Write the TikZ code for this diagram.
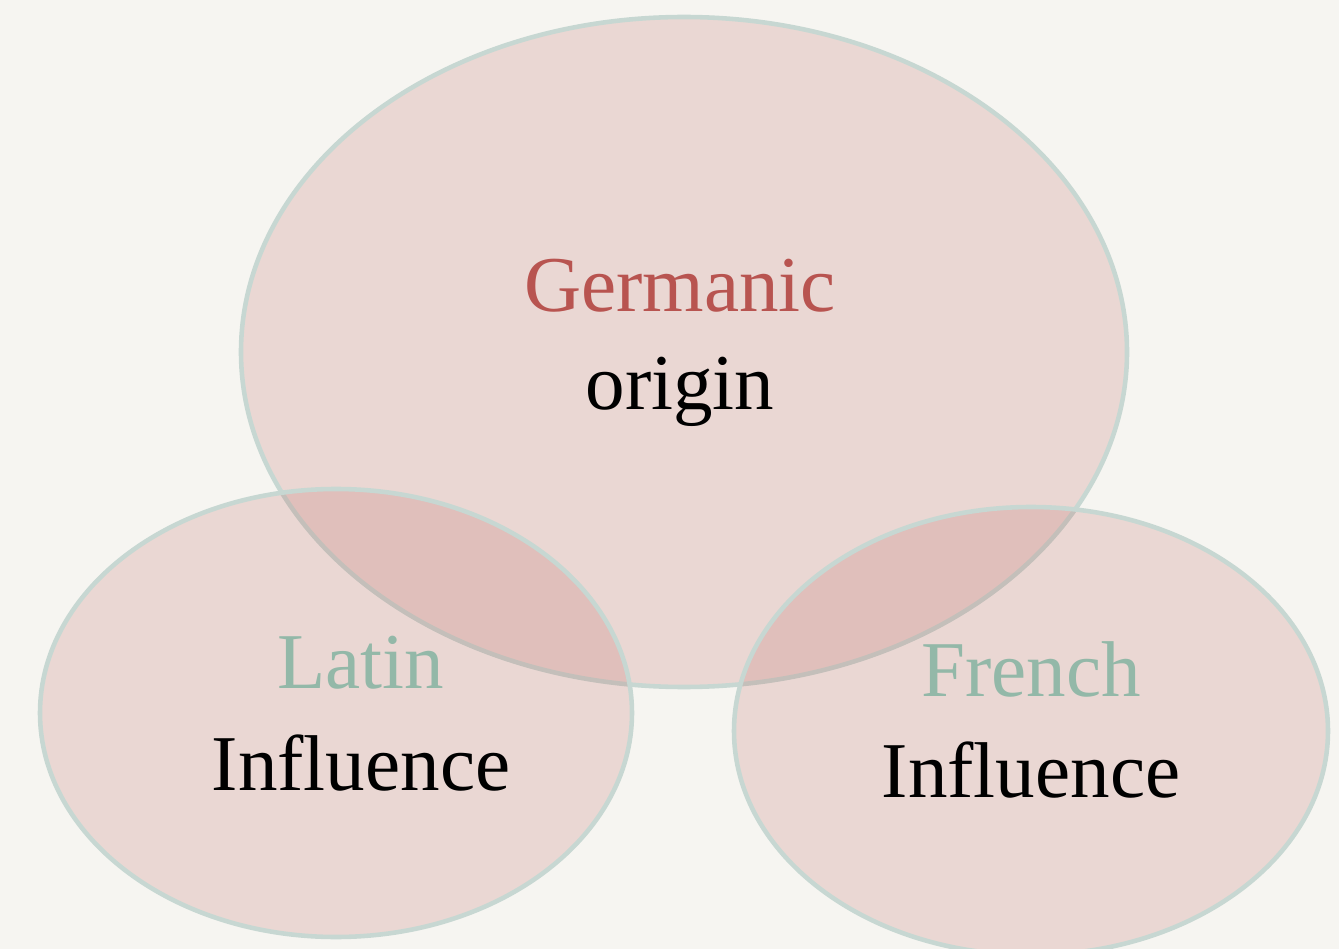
\documentclass[tikz,border=0pt]{standalone}
\usepackage{fontspec}
\setmainfont{Liberation Serif}
\usetikzlibrary{positioning}

\definecolor{paper}{RGB}{246,245,241}
\definecolor{rose}{RGB}{184,84,80}
\definecolor{sage}{RGB}{147,184,168}
\definecolor{rim}{RGB}{199,215,210}

\tikzset{
    blob/.style={fill=rose,fill opacity=0.18,draw=rim,draw opacity=1,line width=2.6pt},
    head/.style={anchor=base,inner sep=0pt,font=\fontsize{45}{54}\selectfont},
    sub/.style={anchor=base,inner sep=0pt,font=\fontsize{45}{54}\selectfont,text=black}
}

\begin{document}
\begin{tikzpicture}[x=0.02cm,y=-0.02cm]
    % paper background, fixes the page size
    \fill[paper] (0,0) rectangle (1339,949);
    \useasboundingbox (0,0) rectangle (1339,949);

    % Germanic, large ellipse on top
    \draw[blob] (684,352) ellipse [x radius=443,y radius=335];
    % Latin, lower left
    \draw[blob] (336,713) ellipse [x radius=296,y radius=224];
    % French, lower right
    \draw[blob] (1031,731) ellipse [x radius=297,y radius=224];

    % labels
    \node[head,text=rose] (germanic) at (680,312) {Germanic};
    \node[sub] (origin) at (680,410) {origin};

    \node[head,text=sage] (latin) at (361,688) {Latin};
    \node[sub] (latininf) at (361,790) {Influence};

    \node[head,text=sage] (french) at (1031,696) {French};
    \node[sub] (frenchinf) at (1031,797) {Influence};
\end{tikzpicture}
\end{document}
